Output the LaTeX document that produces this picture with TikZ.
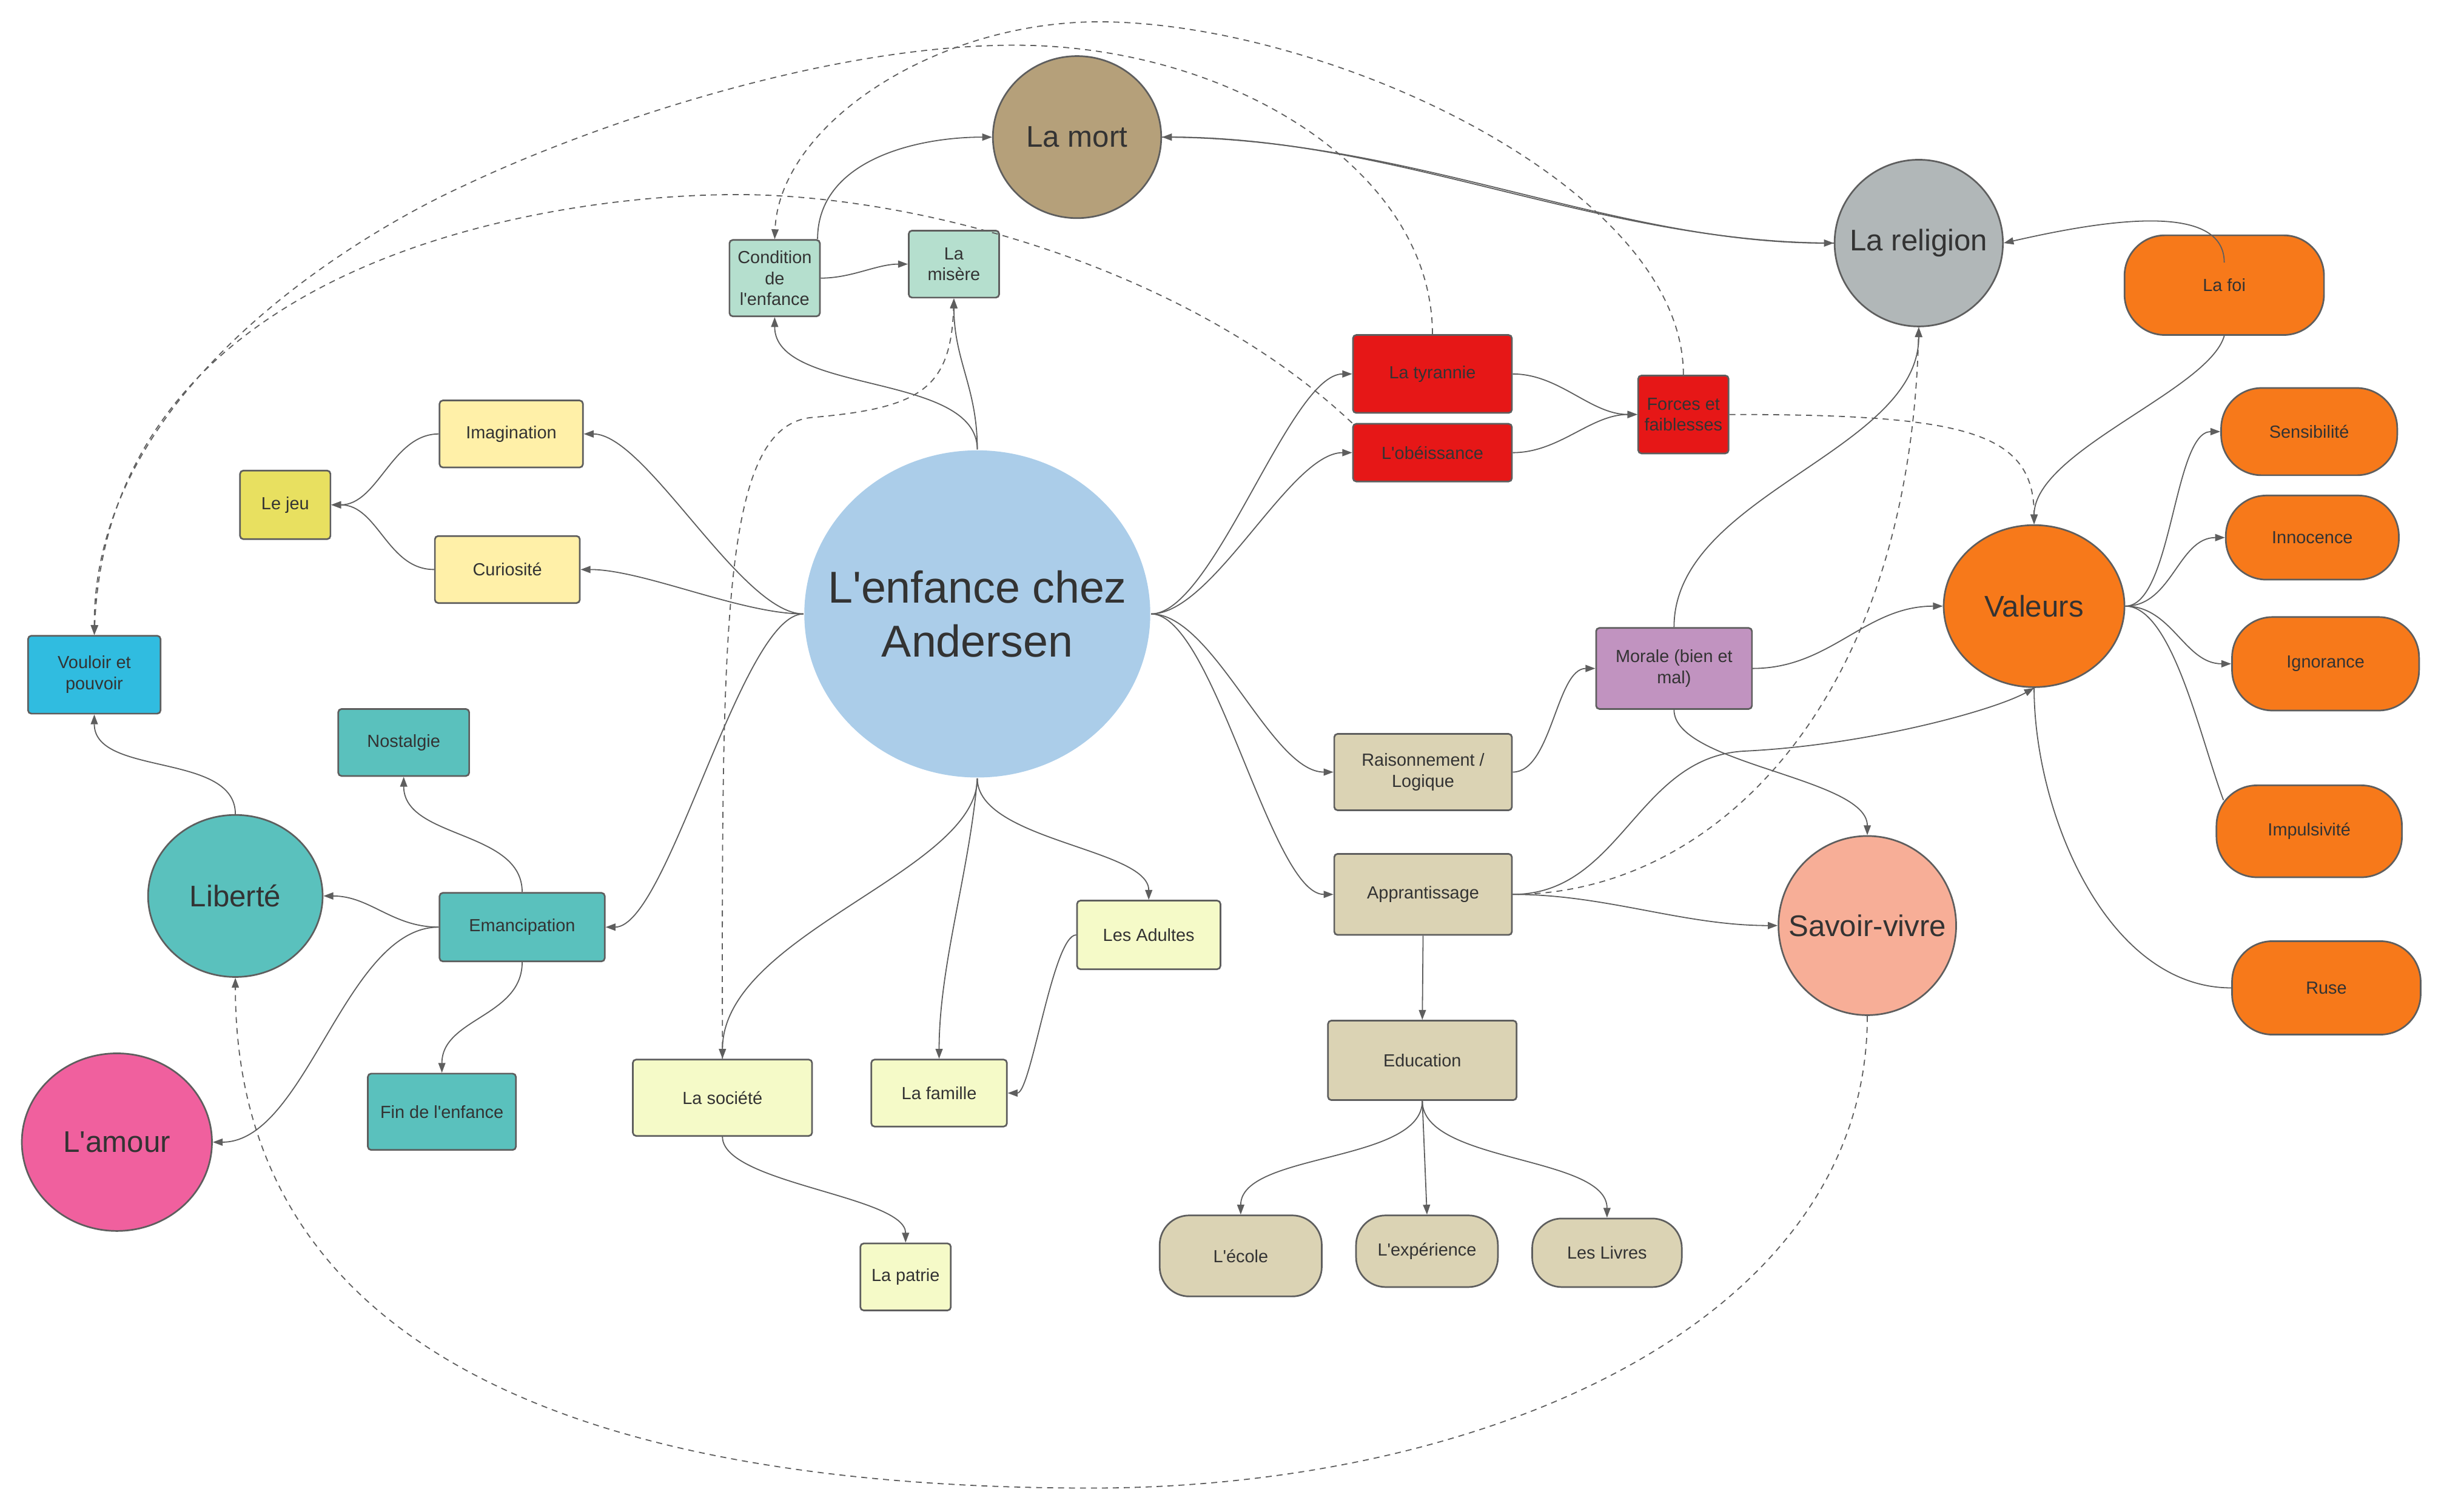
\documentclass[tikz,border=0pt]{standalone}
\usepackage{fontspec}
\setmainfont{Liberation Sans}[Ligatures=TeXOff]
\usepackage{xcolor}
\usepackage{tikz}
\usetikzlibrary{arrows.meta,shapes.geometric,positioning}
\definecolor{cCenter}{HTML}{ABCDE9}
\definecolor{cMort}{HTML}{B5A07A}
\definecolor{cRel}{HTML}{B1B7B8}
\definecolor{cOrange}{HTML}{F7791A}
\definecolor{cSavoir}{HTML}{F7AE97}
\definecolor{cTeal}{HTML}{5AC1BD}
\definecolor{cPink}{HTML}{F0609E}
\definecolor{cMint}{HTML}{B5DFCE}
\definecolor{cRed}{HTML}{E61717}
\definecolor{cPurple}{HTML}{C193C0}
\definecolor{cBeige}{HTML}{DBD3B4}
\definecolor{cCream}{HTML}{FFF0A8}
\definecolor{cJeu}{HTML}{E8E060}
\definecolor{cSky}{HTML}{30BCE0}
\definecolor{cPale}{HTML}{F5FAC8}
\definecolor{cLine}{HTML}{5E5E5E}
\definecolor{cText}{HTML}{333333}
\newcommand{\fsSmall}{\fontsize{6.4}{7.7}\selectfont}
\newcommand{\fsBubble}{\fontsize{10.9}{13}\selectfont}
\newcommand{\fsMain}{\fontsize{16.3}{19.6}\selectfont}

\begin{document}
\begin{tikzpicture}[
  % one unit = one pixel of the 1568 x 970 sketch, y pointing down
  x=0.02cm, y=-0.02cm,
  box/.style={
    rectangle, rounded corners=1.2pt,
    draw=cLine, line width=0.6pt,
    inner sep=1pt, align=center,
    text=cText, font=\fsSmall
  },
  pill/.style={box, rounded corners=0.52cm},
  capsule/.style={box, rounded corners=0.38cm},
  bubble/.style={
    ellipse, draw=cLine, line width=0.6pt,
    inner xsep=-0.4cm, inner ysep=0pt, align=center,
    text=cText, font=\fsBubble
  },
  sz/.style 2 args={minimum width=#1cm, minimum height=#2cm},
  link/.style={draw=cLine, line width=0.4pt,
    -{Triangle[length=3.6pt,width=2.6pt]}},
  plain/.style={draw=cLine, line width=0.4pt},
  hint/.style={link, dash pattern=on 2.2pt off 1.8pt},
]
\useasboundingbox (0,0) rectangle (1568,970);

% --- Central topic ---
\node[bubble, fill=cCenter, draw=none, font=\fsMain, inner xsep=-0.6cm,
      minimum width=4.44cm, minimum height=4.2cm]
  (enf) at (627,394) {L'enfance chez\\Andersen};

% --- Round topics ---
\node[bubble, fill=cMort, minimum width=2.16cm, minimum height=2.08cm] (mort) at (691,88) {La mort};
\node[bubble, fill=cRel, minimum width=2.16cm, minimum height=2.14cm] (rel) at (1231,156) {La religion};
\node[bubble, fill=cOrange, minimum width=2.32cm, minimum height=2.08cm] (val) at (1305,389) {Valeurs};
\node[bubble, fill=cSavoir, minimum width=2.28cm, minimum height=2.3cm] (sav) at (1198,594) {Savoir-vivre};
\node[bubble, fill=cTeal, minimum width=2.24cm, minimum height=2.08cm] (lib) at (151,575) {Liberté};
\node[bubble, fill=cPink, minimum width=2.44cm, minimum height=2.28cm] (amour) at (75,733) {L'amour};

% --- Boxes, top ---
\node[box, fill=cMint, sz={1.16}{0.98}] (cond) at (497,178.5) {Condition\\de\\l'enfance};
\node[box, fill=cMint, sz={1.16}{0.86}] (mis) at (612,169.5) {La\\misère};
\node[box, fill=cRed, sz={2.04}{1.0}] (tyr) at (919,240) {La tyrannie};
\node[box, fill=cRed, sz={2.04}{0.74}] (obe) at (919,290.5) {L'obéissance};
\node[box, fill=cRed, sz={1.16}{1.0}] (forc) at (1080,266) {Forces et\\faiblesses};

% --- Boxes, right ---
\node[box, fill=cPurple, sz={2.0}{1.04}] (mor) at (1074,429) {Morale (bien et\\mal)};
\node[box, fill=cBeige, sz={2.28}{0.98}] (rais) at (913,495.5) {Raisonnement /\\Logique};
\node[box, fill=cBeige, sz={2.28}{1.04}] (appr) at (913,574) {Apprantissage};
\node[box, fill=cBeige, sz={2.42}{1.02}] (educ) at (912.5,680.5) {Education};
\node[capsule, fill=cBeige, sz={2.08}{1.04}] (ecole) at (796,806) {L'école};
\node[capsule, fill=cBeige, sz={1.82}{0.92}] (exper) at (915.5,803) {L'expérience};
\node[capsule, fill=cBeige, sz={1.92}{0.88}] (livres) at (1031,804) {Les Livres};

% --- Orange pills ---
\foreach \nm/\cx/\cy/\w/\h/\txt in {
    foi/1427/183/2.56/1.28/La foi,
    sens/1481.5/277/2.26/1.12/Sensibilité,
    innoc/1483.5/345/2.22/1.08/Innocence,
    ignor/1492/426/2.40/1.20/Ignorance,
    impuls/1481.5/533.5/2.38/1.18/Impulsivité,
    ruse/1492.5/634/2.42/1.20/Ruse}
  \node[pill, fill=cOrange, sz={\w}{\h}] (\nm) at (\cx,\cy) {\txt};

% --- Boxes, left ---
\node[box, fill=cCream, sz={1.84}{0.86}] (imag) at (328,278.5) {Imagination};
\node[box, fill=cCream, sz={1.86}{0.86}] (curio) at (325.5,365.5) {Curiosité};
\node[box, fill=cJeu, sz={1.16}{0.88}] (jeu) at (183,324) {Le jeu};
\node[box, fill=cSky, sz={1.70}{1.0}] (voul) at (60.5,433) {Vouloir et\\pouvoir};
\node[box, fill=cTeal, sz={1.68}{0.86}] (nost) at (259,476.5) {Nostalgie};
\node[box, fill=cTeal, sz={2.12}{0.88}] (eman) at (335,595) {Emancipation};
\node[box, fill=cTeal, sz={1.90}{0.98}] (fin) at (283.5,713.5) {Fin de l'enfance};

% --- Boxes, bottom ---
\node[box, fill=cPale, sz={2.30}{0.98}] (soc) at (463.5,704.5) {La société};
\node[box, fill=cPale, sz={1.74}{0.86}] (fam) at (602.5,701.5) {La famille};
\node[box, fill=cPale, sz={1.84}{0.88}] (adul) at (737,600) {Les Adultes};
\node[box, fill=cPale, sz={1.16}{0.86}] (patr) at (581,819.5) {La patrie};

% --- Links from the centre ---
\draw[link] (enf.north) .. controls +(0,-50) and +(0,50) .. (cond.south);
\draw[link] (enf.north) .. controls +(0,-40) and +(0,40) .. (mis.south);
\draw[link] (enf.west) .. controls +(-40,0) and +(40,0) .. (imag.east);
\draw[link] (enf.west) .. controls +(-40,0) and +(40,0) .. (curio.east);
\draw[link] (enf.west) .. controls +(-40,0) and +(40,0) .. (eman.east);
\draw[link] (enf.south) .. controls +(0,60) and +(0,-80) .. (soc.north);
\draw[link] (enf.south) .. controls +(-5,60) and +(0,-60) .. (fam.north);
\draw[link] (enf.south) .. controls +(0,40) and +(0,-33) .. (adul.north);
\foreach \nm in {tyr,obe,rais,appr}
  \draw[link] (enf.east) .. controls +(40,0) and +(-40,0) .. (\nm.west);

% --- Top cluster ---
\draw[link] (cond.east) .. controls +(20,0) and +(-20,0) .. (mis.west);
\draw[link] ([xshift=-0.04cm]cond.north east) .. controls +(0,-50) and +(-50,0) .. (mort.west);
\draw[link] (rel.west) .. controls +(-150,0) and +(150,0) .. (mort.east);
\draw[link] (mort.east) .. controls +(158,0) and +(-142,0) .. (rel.west);
\draw[link] (tyr.east) .. controls +(30,0) and +(-30,0) .. (forc.west);
\draw[link] (obe.east) .. controls +(30,0) and +(-30,0) .. (forc.west);

% --- Values ---
\draw[link] ([yshift=-0.36cm]foi.north) .. controls +(0,-42) and +(53,-12) .. (rel.east);
\draw[link] (foi.south) .. controls +(-10,35) and +(0,-47) .. (val.north);
\foreach \nm in {sens,innoc,ignor}
  \draw[link] (val.east) .. controls +(30,0) and +(-30,0) .. (\nm.west);
\draw[plain] (val.east) .. controls +(30,0) and +(-15,-40)
  .. ([xshift=0.1cm,yshift=-0.2cm]impuls.north west);
\draw[plain] (val.south) .. controls +(0,80) and +(-80,0) .. (ruse.west);

% --- Reasoning and learning ---
\draw[link] (rais.east) .. controls +(25,0) and +(-25,0) .. (mor.west);
\draw[link] (mor.east) .. controls +(50,0) and +(-50,0) .. (val.west);
\draw[link] (mor.north) .. controls +(0,-85) and +(0,80) .. (rel.south);
\draw[link] (mor.south) .. controls +(0,35) and +(0,-37) .. (sav.north);
\draw[link] (appr.east) .. controls +(70,0) and +(-70,3) .. (1120,482)
  .. controls +(80,-4) and +(-25,14) .. (val.south);
\draw[link] (appr.east) .. controls +(60,0) and +(-61,0) .. (sav.west);
\draw[link] (appr.south) -- (educ.north);
\draw[link] (educ.south) .. controls +(0,40) and +(0,-40) .. (ecole.north);
\draw[link] (educ.south) -- (exper.north);
\draw[link] (educ.south) .. controls +(0,40) and +(0,-40) .. (livres.north);

% --- Left cluster ---
\draw[link] (imag.west) .. controls +(-30,0) and +(30,0) .. (jeu.east);
\draw[link] (curio.west) .. controls +(-30,0) and +(30,0) .. (jeu.east);
\draw[link] (eman.west) .. controls +(-30,0) and +(30,0) .. (lib.east);
\draw[link] (eman.west) .. controls +(-60,0) and +(60,0) .. (amour.east);
\draw[link] (eman.north) .. controls +(0,-40) and +(0,40) .. (nost.south);
\draw[link] (eman.south) .. controls +(0,35) and +(0,-35) .. (fin.north);
\draw[link] (lib.north) .. controls +(0,-40) and +(0,40) .. (voul.south);

% --- Bottom cluster ---
\draw[link] (adul.west) .. controls +(-15,0) and +(15,0) .. (fam.east);
\draw[link] (soc.south) .. controls +(0,30) and +(0,-30) .. (patr.north);

% --- Dashed cross links ---
\draw[hint] (soc.north) .. controls (463,400) and (463,275) .. (520,268)
  .. controls (590,262) and (610,250) .. (mis.south);
\draw[hint] (appr.east) .. controls +(130,0) and +(-6,240) .. (rel.south);
\draw[hint] (forc.east) .. controls +(150,0) and +(0,-60) .. (val.north);
\draw[hint] (forc.north) .. controls +(0,-121) and +(145,0) .. (705,14)
  .. controls (600,14) and (500,80) .. (cond.north);
\draw[hint] (tyr.north) .. controls +(0,-105) and +(139,0) .. (651,29)
  .. controls (530,29) and (380,80) .. (298,119)
  .. controls (230,150) and (60,250) .. (voul.north);
\draw[hint] (obe.north west) .. controls (760,170) and (580,122) .. (462,125)
  .. controls (344,127) and (70,170) .. (voul.north);
\draw[hint] (sav.south) .. controls +(0,198) and +(250,0) .. (700,955)
  .. controls (400,955) and (151,880) .. (lib.south);

\end{tikzpicture}
\end{document}
